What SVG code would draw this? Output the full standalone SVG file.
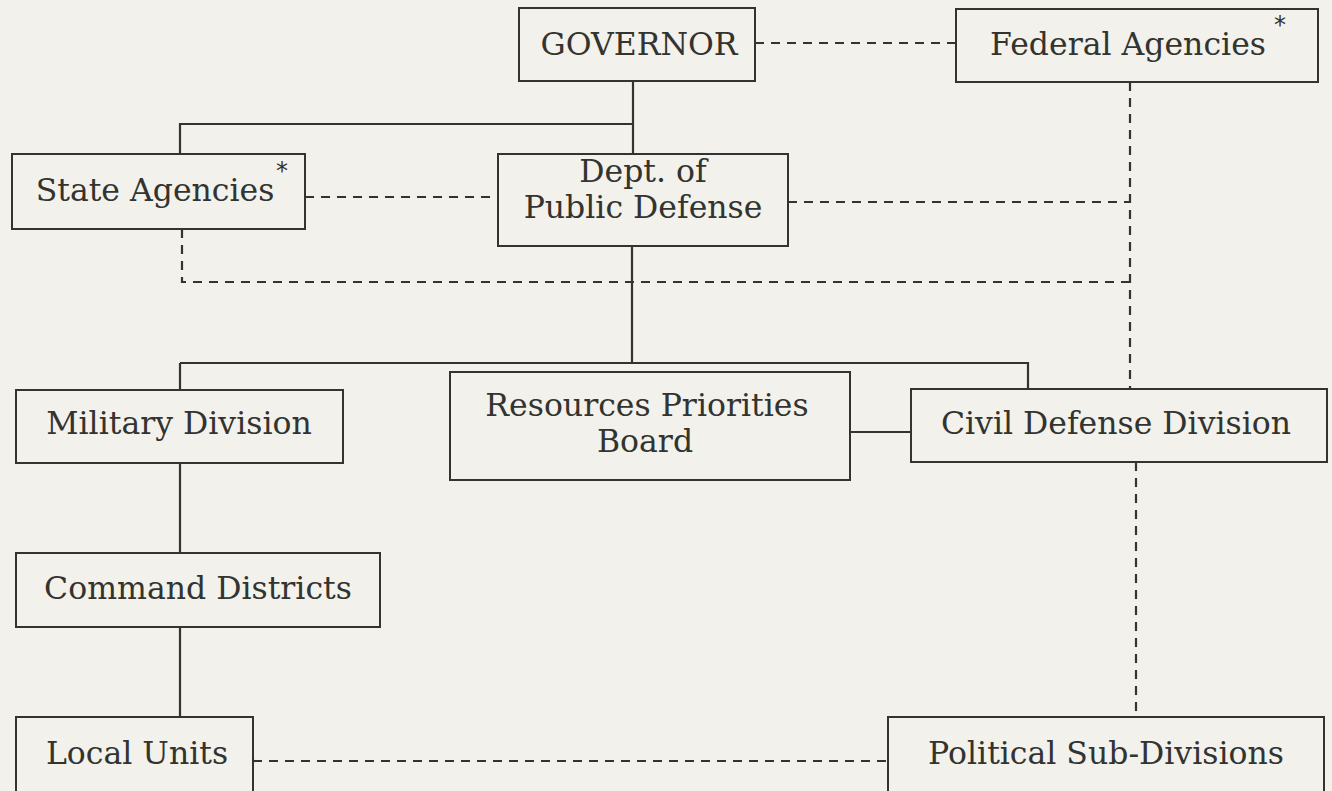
<svg xmlns="http://www.w3.org/2000/svg" width="1332" height="791" viewBox="0 0 1332 791">
<style>
.box{fill:none;stroke:#33332f;stroke-width:2}
.t{font-family:"DejaVu Serif","Liberation Serif",serif;font-size:31.5px;fill:#33332f;text-anchor:middle}
.ast{font-family:"DejaVu Sans","Liberation Sans",sans-serif;font-size:24px;fill:#33332f;text-anchor:middle}
.solid{fill:none;stroke:#33332f;stroke-width:2.2}
.dash{fill:none;stroke:#33332f;stroke-width:2.2;stroke-dasharray:9 7}
</style>
<rect width="1332" height="791" fill="#f2f1eb"/>
<g id="connectors">
<path class="dash" d="M755 43H956"/>
<path class="solid" d="M633 81V154M633 124H180V154"/>
<path class="dash" d="M305 197H498"/>
<path class="dash" d="M788 202H1130"/>
<path class="dash" d="M1130 82V389"/>
<path class="dash" d="M182 229V282H1130"/>
<path class="solid" d="M632 246V363M180 363H1028V389M180 363V390"/>
<path class="solid" d="M850 432H911"/>
<path class="dash" d="M1136 462V717"/>
<path class="solid" d="M180 463V553M180 627V717"/>
<path class="dash" d="M253 761H888"/>
</g>
<g id="governor">
<rect class="box" x="519" y="8" width="236" height="73"/>
<text class="t" x="639" y="55">GOVERNOR</text>
</g>
<g id="federal-agencies">
<rect class="box" x="956" y="9" width="362" height="73"/>
<text class="t" x="1128" y="55">Federal Agencies</text>
<text class="ast" x="1280" y="33">*</text>
</g>
<g id="state-agencies">
<rect class="box" x="12" y="154" width="293" height="75"/>
<text class="t" x="155" y="201">State Agencies</text>
<text class="ast" x="282" y="179">*</text>
</g>
<g id="dept-public-defense">
<rect class="box" x="498" y="154" width="290" height="92"/>
<text class="t" x="643" y="182">Dept. of</text>
<text class="t" x="643" y="218">Public Defense</text>
</g>
<g id="military-division">
<rect class="box" x="16" y="390" width="327" height="73"/>
<text class="t" x="179" y="434">Military Division</text>
</g>
<g id="resources-priorities-board">
<rect class="box" x="450" y="372" width="400" height="108"/>
<text class="t" x="647" y="416">Resources Priorities</text>
<text class="t" x="645" y="452">Board</text>
</g>
<g id="civil-defense-division">
<rect class="box" x="911" y="389" width="416" height="73"/>
<text class="t" x="1116" y="434">Civil Defense Division</text>
</g>
<g id="command-districts">
<rect class="box" x="16" y="553" width="364" height="74"/>
<text class="t" x="198" y="599">Command Districts</text>
</g>
<g id="local-units">
<rect class="box" x="16" y="717" width="237" height="90"/>
<text class="t" x="137" y="764">Local Units</text>
</g>
<g id="political-sub-divisions">
<rect class="box" x="888" y="717" width="436" height="90"/>
<text class="t" x="1106" y="764">Political Sub-Divisions</text>
</g>
</svg>
